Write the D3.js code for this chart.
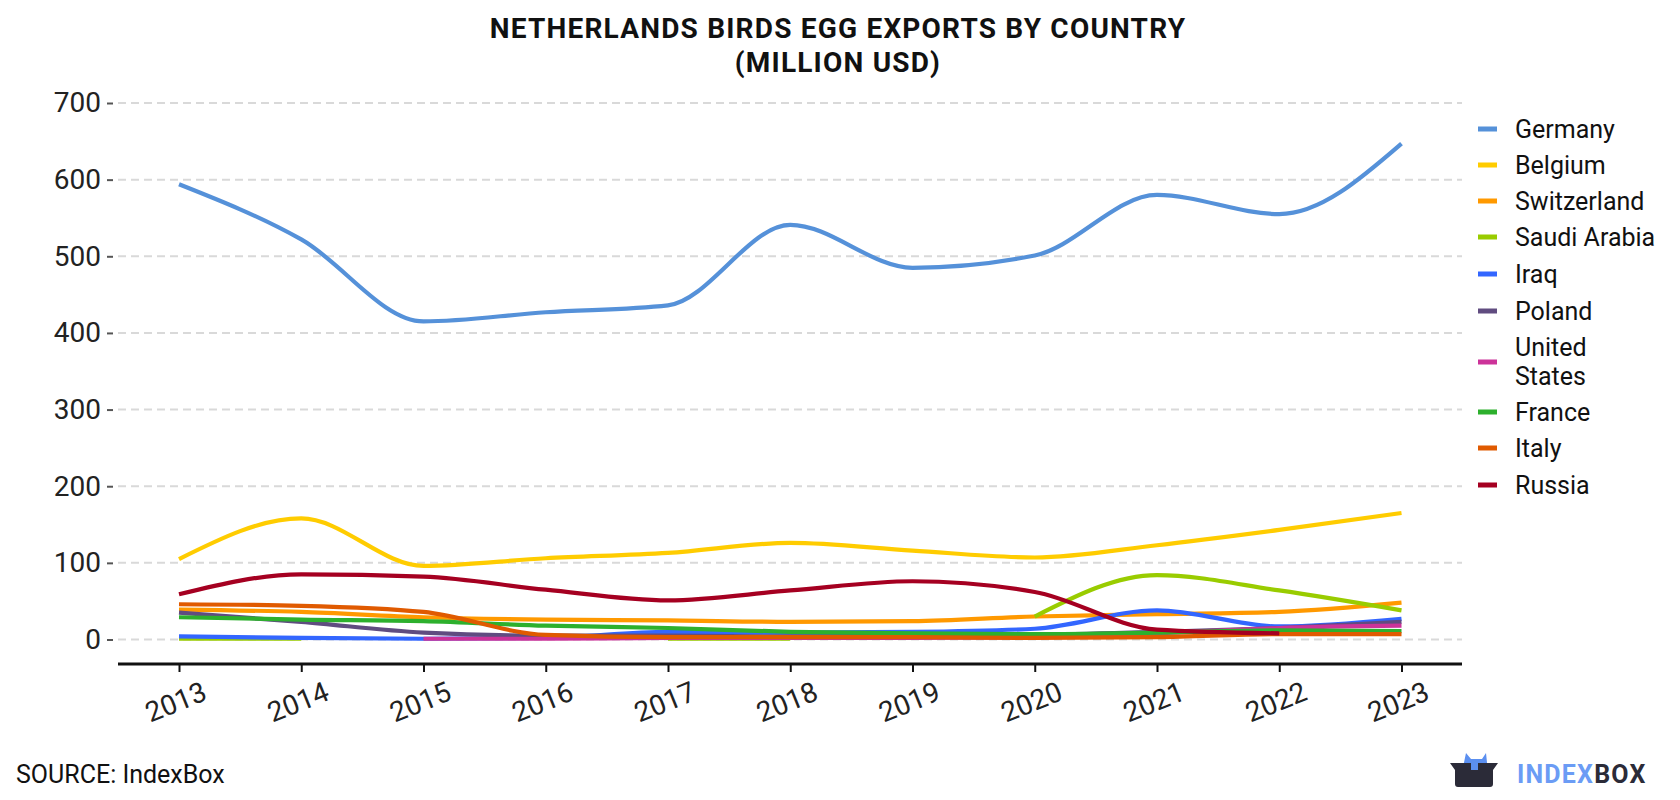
<!DOCTYPE html>
<html><head><meta charset="utf-8">
<script src="https://cdn.jsdelivr.net/npm/d3@7/dist/d3.min.js"></script>
<style>body{margin:0;background:#fff;font-family:Roboto,sans-serif}</style>
</head><body><svg id="c" width="1680" height="800"></svg>
<script>
const years = [2013,2014,2015,2016,2017,2018,2019,2020,2021,2022,2023];
const yTicks = [0,100,200,300,400,500,600,700];
const seriesNames = ["Germany","Belgium","Switzerland","Saudi Arabia","Iraq","Poland","United States","France","Italy","Russia"];
const seriesColors = ["#5591d9","#ffcc00","#ff9900","#99cc00","#3366ff","#604c80","#cc3399","#2db02d","#e05a00","#a50021"];
const germany     = [594,522,415,427,436,541,485,501,580,555,647];
const belgium     = [105,158,96,106,113,126,116,107,123,143,165];
const switzerland = [39,36,29,26,25,23,24,30,33,36,48];
const saudiArabia = [1,1,null,null,1,1,null,30,84,64,38];
const iraq        = [4,2,1,2,10,9,10,14,38,17,27];
const poland      = [35,23,9,5,5,4,5,6,10,15,23];
const unitedStates= [null,null,1,1,2,2,2,3,8,15,18];
const france      = [29,26,24,18,15,10,8,7,9,12,11];
const italy       = [46,44,36,6,3,3,3,2,3,7,7];
const russia      = [59,85,82,65,51,64,76,62,13,8,null];
const seriesValues = [germany,belgium,switzerland,saudiArabia,iraq,poland,unitedStates,france,italy,russia];

const svg = d3.select("#c");
const x = d3.scalePoint().domain(years).range([179,1401.5]);
const y = d3.scaleLinear().domain([0,700]).range([639.5,103]);

// title
svg.append("text").attr("x",838).attr("y",38).attr("text-anchor","middle")
  .attr("font-size",28).attr("font-weight","bold").attr("fill","#111").attr("letter-spacing",1.2)
  .text("NETHERLANDS BIRDS EGG EXPORTS BY COUNTRY");
svg.append("text").attr("x",838).attr("y",72).attr("text-anchor","middle")
  .attr("font-size",28).attr("font-weight","bold").attr("fill","#111").attr("letter-spacing",1.2)
  .text("(MILLION USD)");

// grid
svg.append("g").selectAll("line").data(yTicks).join("line")
  .attr("x1",118).attr("x2",1462).attr("y1",d=>y(d)).attr("y2",d=>y(d))
  .attr("stroke","#d9d9d9").attr("stroke-width",2).attr("stroke-dasharray","8,5");

// y axis
const ya = svg.append("g").attr("transform","translate(113,0)")
  .call(d3.axisLeft(y).tickValues(yTicks).tickSize(6).tickPadding(6));
ya.select(".domain").remove();
ya.selectAll(".tick line").attr("stroke","#555").attr("stroke-width",2);
ya.selectAll("text").attr("font-size",28).attr("font-family","Roboto").attr("fill","#222");

// x axis
const xa = svg.append("g").attr("transform","translate(0,664)")
  .call(d3.axisBottom(x).tickSize(8).tickSizeOuter(0));
xa.select(".domain").attr("d","M118,0H1462").attr("stroke","#111").attr("stroke-width",3);
xa.selectAll(".tick line").attr("stroke","#111").attr("stroke-width",2);
xa.selectAll("text").attr("font-size",28).attr("font-family","Roboto").attr("fill","#222")
  .attr("text-anchor","middle").attr("dy",0).attr("y",0)
  .attr("transform","translate(0,47) rotate(-22)");

// lines
const line = d3.line().defined(d=>d[1]!==null).x(d=>x(d[0])).y(d=>y(d[1])).curve(d3.curveMonotoneX);
seriesValues.forEach((vals,i)=>{
  svg.append("path").datum(years.map((yr,j)=>[yr,vals[j]]))
    .attr("d",line).attr("fill","none").attr("stroke",seriesColors[i])
    .attr("stroke-width",4.2);
});

// legend
const legY = [129,165,201,237,274,311,362,412,448,485];
const lg = svg.append("g");
seriesNames.forEach((n,i)=>{
  lg.append("rect").attr("x",1478).attr("y",legY[i]-2.5).attr("width",19).attr("height",5).attr("fill",seriesColors[i]);
  const t = lg.append("text").attr("x",1515).attr("font-size",25).attr("fill","#111");
  if(n==="United States"){
    t.append("tspan").attr("x",1515).attr("y",legY[i]-15+9).text("United");
    t.append("tspan").attr("x",1515).attr("y",legY[i]+14+9).text("States");
  } else {
    t.attr("y",legY[i]+9).text(n);
  }
});

// source
svg.append("text").attr("x",16).attr("y",783).attr("font-size",25).attr("fill","#111").text("SOURCE: IndexBox");

// logo
const lo = svg.append("g");
lo.append("path").attr("d","M1462,772 L1466,753 L1471,759 L1482,759 L1486,753 L1488,772 Z").attr("fill","#5b8ff0");
lo.append("path").attr("d","M1450,763 L1471,763 L1471,770 L1478,770 L1478,763 L1498,763 L1493,770 L1493,784 Q1493,787 1490,787 L1458,787 Q1455,787 1455,784 L1455,770 Z").attr("fill","#2b2b38");
const lt = svg.append("text").attr("x",1517).attr("y",783).attr("font-size",25).attr("font-weight","bold").attr("letter-spacing",1.2);
lt.append("tspan").attr("fill","#6b9cf5").text("INDEX");
lt.append("tspan").attr("fill","#2b2b38").text("BOX");
</script></body></html>
